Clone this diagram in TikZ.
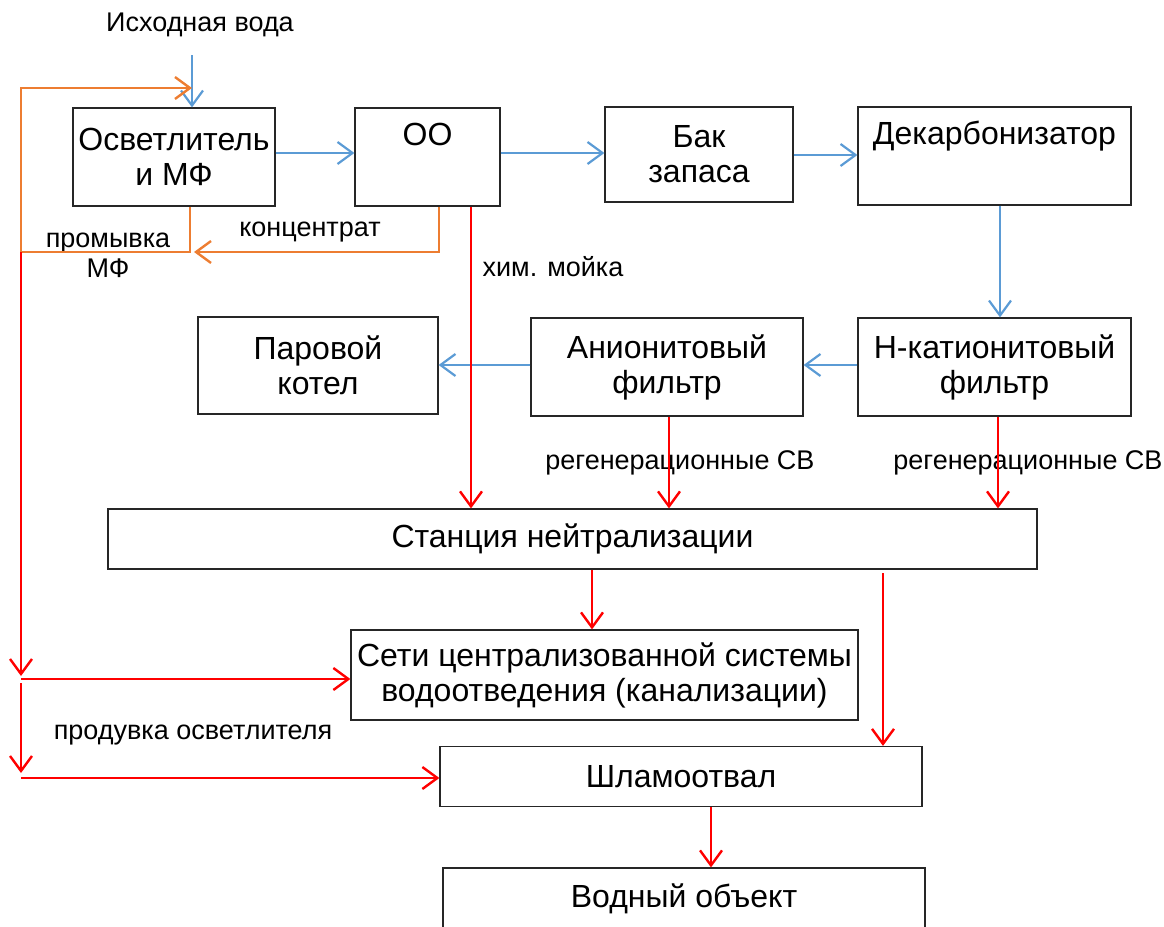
\documentclass[tikz,border=0pt]{standalone}
\usepackage{fontspec}
\setmainfont{Liberation Sans}
\usepackage{xcolor}
\usetikzlibrary{positioning,calc,arrows.meta}
\definecolor{flowblue}{HTML}{5B9BD5}
\definecolor{floworange}{HTML}{ED7D31}
\definecolor{flowred}{HTML}{FF0000}

\begin{document}
\begin{tikzpicture}[x=1pt, y=-1pt,
    box/.style={draw=black!85, line width=1.2pt, rectangle, inner sep=0pt, align=center, font=\fontsize{32}{35}\selectfont},
    lbl/.style={inner sep=0pt, align=center, font=\fontsize{27}{30}\selectfont},
    bluearr/.style={draw=flowblue, line width=2.2pt, -{Straight Barb[length=15pt,width=22pt]}},
    orangearr/.style={draw=floworange, line width=2.4pt, -{Straight Barb[length=15pt,width=22pt]}},
    redarr/.style={draw=flowred, line width=2.4pt, -{Straight Barb[length=15pt,width=22pt]}}]
    \useasboundingbox (0,0) rectangle (1164,926);

    \node (osv) [box, minimum width=202pt, minimum height=98pt] at (174,157) {Осветлитель\\и МФ};
    \node (oo) [box, minimum width=145pt, minimum height=98pt] at (427.5,157) {ОО\\\strut};
    \node (bak) [box, minimum width=188pt, minimum height=95pt] at (699,154.5) {Бак\\запаса};
    \node (dek) [box, minimum width=273pt, minimum height=98pt] at (994.5,156) {Декарбонизатор\\\strut};
    \node (kotel) [box, minimum width=240pt, minimum height=97pt] at (318,365.5) {Паровой\\котел};
    \node (anion) [box, minimum width=272pt, minimum height=98pt] at (667,367) {Анионитовый\\фильтр};
    \node (hkat) [box, minimum width=273pt, minimum height=98pt] at (994.5,367) {Н-катионитовый\\фильтр};
    \node (stan) [box, minimum width=929pt, minimum height=60pt] at (572.5,539) {Станция нейтрализации};
    \node (seti) [box, minimum width=507pt, minimum height=90pt] at (604.5,675) {Сети централизованной системы\\водоотведения (канализации)};
    \node (shlam) [box, minimum width=482pt, minimum height=60pt] at (681,776.5) {Шламоотвал};
    \node (vod) [box, minimum width=482pt, minimum height=62pt] at (684,899) {Водный объект};

    \node (ishod) [lbl] at (200,25) {Исходная вода};
    \node (konc) [lbl] at (310,232) {концентрат};
    \node (promyv) [lbl] at (108,255) {промывка\\МФ};
    \node (himm) [lbl] at (553,267) {хим. мойка};
    \node (regan) [lbl] at (680,463) {регенерационные СВ};
    \node (regkat) [lbl] at (1028,463) {регенерационные СВ};
    \node (produv) [lbl] at (193,735) {продувка осветлителя};

    \coordinate (inl) at (192,55);
    \coordinate (lft) at (21,252);
    \coordinate (ltop) at (21,88);
    \coordinate (koncend) at (194,252);
    \coordinate (dn1) at (21,676);
    \coordinate (br1) at (21,679);
    \coordinate (br2) at (21,683);
    \coordinate (dn2) at (21,773);
    \coordinate (br3) at (21,778);

    \draw[bluearr] (inl) -- (inl |- osv.north);
    \draw[bluearr] (osv.east |- 0,153) -- (oo.west |- 0,153);
    \draw[bluearr] (oo.east |- 0,153) -- (bak.west |- 0,153);
    \draw[bluearr] (bak.east |- 0,155) -- (dek.west |- 0,155);
    \draw[bluearr] (dek.south -| 1000,0) -- (hkat.north -| 1000,0);
    \draw[bluearr] (hkat.west |- 0,365) -- (anion.east |- 0,365);
    \draw[bluearr] (anion.west |- 0,365) -- (kotel.east |- 0,365);

    \draw[orangearr] (osv.south -| 190,0) |- (lft) -- (ltop) -- (ltop -| inl);
    \draw[orangearr] (oo.south -| 439,0) |- (koncend);

    \draw[redarr] (oo.south -| 471,0) -- (stan.north -| 471,0);
    \draw[redarr] (anion.south -| 669,0) -- (stan.north -| 669,0);
    \draw[redarr] (hkat.south -| 998,0) -- (stan.north -| 998,0);
    \draw[redarr] (stan.south -| 592,0) -- (seti.north -| 592,0);
    \draw[redarr] (883,573) -- (shlam.north -| 883,0);
    \draw[redarr] (shlam.south -| 711,0) -- (vod.north -| 711,0);
    \draw[redarr] (lft) -- (dn1);
    \draw[redarr] (br1) -- (br1 -| seti.west);
    \draw[redarr] (br2) -- (dn2);
    \draw[redarr] (br3) -- (br3 -| shlam.west);

\end{tikzpicture}
\end{document}
